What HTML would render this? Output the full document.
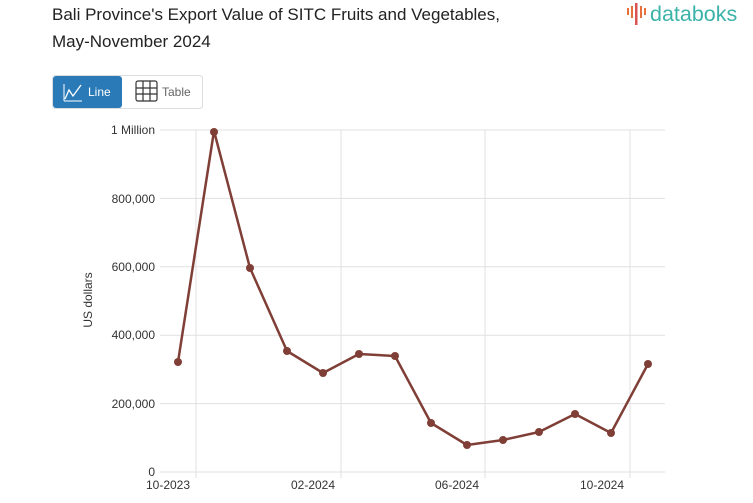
<!DOCTYPE html>
<html><head><meta charset="utf-8"><style>
body{margin:0;background:#fff;width:753px;height:498px;overflow:hidden;font-family:"Liberation Sans",sans-serif}
</style></head><body>
<svg width="753" height="498" xmlns="http://www.w3.org/2000/svg" font-family="Liberation Sans, sans-serif">
<text x="52" y="20" font-size="17" fill="#222">Bali Province's Export Value of SITC Fruits and Vegetables,</text>
<text x="52" y="47" font-size="17" fill="#222">May-November 2024</text>
<g fill="#e8703a"><rect x="627" y="8" width="2" height="7"/><rect x="631" y="6" width="2" height="12"/><rect x="635" y="3" width="2.5" height="22" fill="#d9534f"/><rect x="640" y="6" width="2" height="12"/><rect x="644" y="8" width="2" height="7"/></g>
<text x="650" y="21" font-size="21.5" fill="#3bb3a9">databoks</text>
<rect x="52.5" y="75.5" width="150" height="33" rx="3" fill="#fff" stroke="#ddd"/>
<rect x="53" y="76" width="69" height="32" rx="3" fill="#2a7ab8"/>
<polyline points="65,99 69,90 73,96 81,85" fill="none" stroke="#fff" stroke-width="1.3"/>
<line x1="64" y1="84" x2="64" y2="101" stroke="#fff"/><line x1="64" y1="101" x2="82" y2="101" stroke="#fff"/>
<text x="88" y="96" font-size="12" fill="#fff">Line</text>
<g stroke="#333" fill="none" stroke-width="1.2"><rect x="136" y="81" width="21" height="20" rx="2"/><line x1="143" y1="81" x2="143" y2="101"/><line x1="150" y1="81" x2="150" y2="101"/><line x1="136" y1="88" x2="157" y2="88"/><line x1="136" y1="94" x2="157" y2="94"/></g>
<text x="162" y="96" font-size="12" fill="#666">Table</text>
<g stroke="#e0e0e0" stroke-width="1">
<line x1="160" y1="130" x2="665" y2="130"/><line x1="160" y1="198.4" x2="665" y2="198.4"/><line x1="160" y1="266.8" x2="665" y2="266.8"/><line x1="160" y1="335.2" x2="665" y2="335.2"/><line x1="160" y1="403.6" x2="665" y2="403.6"/><line x1="160" y1="472" x2="665" y2="472"/>
<line x1="196" y1="130" x2="196" y2="478"/><line x1="341" y1="130" x2="341" y2="478"/><line x1="485" y1="130" x2="485" y2="478"/><line x1="630" y1="130" x2="630" y2="478"/>
</g>
<g font-size="12" fill="#333" text-anchor="end">
<text x="155" y="134">1 Million</text><text x="155" y="203">800,000</text><text x="155" y="271">600,000</text><text x="155" y="339">400,000</text><text x="155" y="408">200,000</text><text x="155" y="476">0</text>
</g>
<text transform="translate(92,300) rotate(-90)" font-size="12" fill="#333" text-anchor="middle">US dollars</text>
<g font-size="12" fill="#333" text-anchor="middle">
<text x="168" y="489">10-2023</text><text x="313" y="489">02-2024</text><text x="457" y="489">06-2024</text><text x="602" y="489">10-2024</text>
</g>
<polyline fill="none" stroke="#7f3f37" stroke-width="2.5" stroke-linejoin="round" points="178,362 214,131 250,268 287,351 323,373 359,354 395,356 431,423 467,445 503,440 539,432 575,414 611,433 648,364"/>
<g fill="#7f3f37">
<circle cx="178" cy="362" r="4"/><circle cx="214" cy="132" r="4"/><circle cx="250" cy="268" r="4"/><circle cx="287" cy="351" r="4"/><circle cx="323" cy="373" r="4"/><circle cx="359" cy="354" r="4"/><circle cx="395" cy="356" r="4"/><circle cx="431" cy="423" r="4"/><circle cx="467" cy="445" r="4"/><circle cx="503" cy="440" r="4"/><circle cx="539" cy="432" r="4"/><circle cx="575" cy="414" r="4"/><circle cx="611" cy="433" r="4"/><circle cx="648" cy="364" r="4"/>
</g>
</svg>
</body></html>
